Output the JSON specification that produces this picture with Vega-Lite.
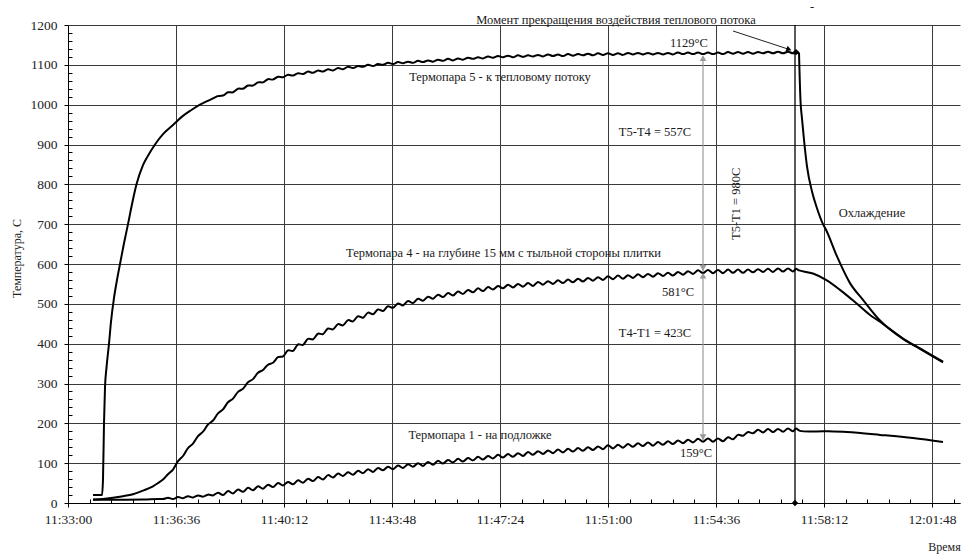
{
  "$schema": "https://vega.github.io/schema/vega-lite/v6.json",
  "autosize": {"type": "none"},
  "padding": {"left": 68, "top": 25, "right": 1, "bottom": 51},
  "width": 892,
  "height": 478,
  "background": "#ffffff",
  "config": {"view": {"stroke": null}},
  "datasets": {
    "lines": [
      {"s":"5a","t":50,"v":20},{"s":"5a","t":68,"v":20},{"s":"5a","t":70,"v":60},{"s":"5a","t":72,"v":200},{"s":"5a","t":74,"v":290},{"s":"5a","t":77,"v":340},{"s":"5a","t":82,"v":400},{"s":"5a","t":86,"v":455},{"s":"5a","t":92,"v":515},{"s":"5a","t":98,"v":560},{"s":"5a","t":104,"v":600},{"s":"5a","t":112,"v":652},{"s":"5a","t":120,"v":700},{"s":"5a","t":128,"v":750},{"s":"5a","t":137,"v":800},{"s":"5a","t":150,"v":848},{"s":"5a","t":162,"v":876},{"s":"5a","t":174,"v":900},{"s":"5a","t":190,"v":926},{"s":"5a","t":210,"v":949},{"s":"5a","t":228,"v":970},{"s":"5a","t":246,"v":986},{"s":"5a","t":264,"v":1000},{"s":"5a","t":282,"v":1011},{"s":"5a","t":300,"v":1022},
      {"s":"5b","t":300,"v":1022},{"s":"5b","t":310,"v":1023},{"s":"5b","t":320,"v":1031},{"s":"5b","t":330,"v":1031},{"s":"5b","t":340,"v":1040},{"s":"5b","t":350,"v":1040},{"s":"5b","t":360,"v":1048},{"s":"5b","t":370,"v":1048},{"s":"5b","t":380,"v":1056},{"s":"5b","t":390,"v":1056},{"s":"5b","t":400,"v":1064},{"s":"5b","t":410,"v":1063},{"s":"5b","t":420,"v":1070},{"s":"5b","t":430,"v":1069},{"s":"5b","t":440,"v":1075},{"s":"5b","t":450,"v":1073},{"s":"5b","t":460,"v":1079},{"s":"5b","t":470,"v":1077},{"s":"5b","t":480,"v":1083},{"s":"5b","t":490,"v":1080},{"s":"5b","t":500,"v":1086},{"s":"5b","t":510,"v":1083},{"s":"5b","t":520,"v":1089},{"s":"5b","t":530,"v":1086},{"s":"5b","t":540,"v":1092},{"s":"5b","t":550,"v":1089},{"s":"5b","t":560,"v":1095},{"s":"5b","t":570,"v":1092},{"s":"5b","t":580,"v":1097},{"s":"5b","t":590,"v":1095},{"s":"5b","t":600,"v":1100},{"s":"5b","t":610,"v":1097},{"s":"5b","t":620,"v":1102},{"s":"5b","t":630,"v":1100},{"s":"5b","t":640,"v":1105},{"s":"5b","t":650,"v":1102},{"s":"5b","t":660,"v":1107},{"s":"5b","t":670,"v":1104},{"s":"5b","t":680,"v":1108},{"s":"5b","t":690,"v":1105},{"s":"5b","t":700,"v":1110},{"s":"5b","t":710,"v":1107},{"s":"5b","t":720,"v":1111},{"s":"5b","t":730,"v":1108},{"s":"5b","t":740,"v":1113},{"s":"5b","t":750,"v":1110},{"s":"5b","t":760,"v":1115},{"s":"5b","t":770,"v":1111},{"s":"5b","t":780,"v":1116},{"s":"5b","t":790,"v":1113},{"s":"5b","t":800,"v":1118},{"s":"5b","t":810,"v":1115},{"s":"5b","t":820,"v":1119},{"s":"5b","t":830,"v":1116},{"s":"5b","t":840,"v":1121},{"s":"5b","t":850,"v":1118},{"s":"5b","t":860,"v":1122},{"s":"5b","t":870,"v":1119},{"s":"5b","t":880,"v":1123},{"s":"5b","t":890,"v":1119},{"s":"5b","t":900,"v":1124},{"s":"5b","t":910,"v":1120},{"s":"5b","t":920,"v":1124},{"s":"5b","t":930,"v":1121},{"s":"5b","t":940,"v":1125},{"s":"5b","t":950,"v":1121},{"s":"5b","t":960,"v":1126},{"s":"5b","t":970,"v":1122},{"s":"5b","t":980,"v":1126},{"s":"5b","t":990,"v":1122},{"s":"5b","t":1000,"v":1127},{"s":"5b","t":1010,"v":1123},{"s":"5b","t":1020,"v":1127},{"s":"5b","t":1030,"v":1124},{"s":"5b","t":1040,"v":1128},{"s":"5b","t":1050,"v":1124},{"s":"5b","t":1060,"v":1129},{"s":"5b","t":1070,"v":1125},{"s":"5b","t":1080,"v":1129},{"s":"5b","t":1090,"v":1125},{"s":"5b","t":1100,"v":1129},{"s":"5b","t":1110,"v":1125},{"s":"5b","t":1120,"v":1130},{"s":"5b","t":1130,"v":1126},{"s":"5b","t":1140,"v":1130},{"s":"5b","t":1150,"v":1126},{"s":"5b","t":1160,"v":1130},{"s":"5b","t":1170,"v":1126},{"s":"5b","t":1180,"v":1130},{"s":"5b","t":1190,"v":1126},{"s":"5b","t":1200,"v":1130},{"s":"5b","t":1210,"v":1126},{"s":"5b","t":1220,"v":1131},{"s":"5b","t":1230,"v":1127},{"s":"5b","t":1240,"v":1131},{"s":"5b","t":1250,"v":1127},{"s":"5b","t":1260,"v":1131},{"s":"5b","t":1270,"v":1127},{"s":"5b","t":1280,"v":1131},{"s":"5b","t":1290,"v":1127},{"s":"5b","t":1300,"v":1131},{"s":"5b","t":1310,"v":1127},{"s":"5b","t":1320,"v":1132},{"s":"5b","t":1330,"v":1128},{"s":"5b","t":1340,"v":1132},{"s":"5b","t":1350,"v":1128},{"s":"5b","t":1360,"v":1132},{"s":"5b","t":1370,"v":1128},{"s":"5b","t":1380,"v":1132},{"s":"5b","t":1390,"v":1129},{"s":"5b","t":1400,"v":1133},{"s":"5b","t":1410,"v":1129},{"s":"5b","t":1420,"v":1133},{"s":"5b","t":1430,"v":1129},{"s":"5b","t":1440,"v":1133},{"s":"5b","t":1450,"v":1129},{"s":"5b","t":1462,"v":1131},
      {"s":"5c","t":1462,"v":1131},{"s":"5c","t":1465,"v":1010},{"s":"5c","t":1468,"v":965},{"s":"5c","t":1472,"v":912},{"s":"5c","t":1478,"v":845},{"s":"5c","t":1488,"v":782},{"s":"5c","t":1498,"v":740},{"s":"5c","t":1510,"v":700},{"s":"5c","t":1516,"v":686},{"s":"5c","t":1538,"v":619},{"s":"5c","t":1564,"v":552},{"s":"5c","t":1590,"v":510},{"s":"5c","t":1624,"v":458},{"s":"5c","t":1670,"v":412},{"s":"5c","t":1704,"v":387},{"s":"5c","t":1750,"v":353},
      {"s":"4","t":50,"v":9},{"s":"4","t":70,"v":10},{"s":"4","t":90,"v":13},{"s":"4","t":110,"v":17},{"s":"4","t":130,"v":22},{"s":"4","t":150,"v":31},{"s":"4","t":160,"v":36},{"s":"4","t":170,"v":42},{"s":"4","t":180,"v":50},{"s":"4","t":190,"v":59},
      {"s":"4","t":200,"v":72},{"s":"4","t":210,"v":84},{"s":"4","t":220,"v":105},{"s":"4","t":230,"v":118},{"s":"4","t":240,"v":138},{"s":"4","t":250,"v":149},{"s":"4","t":260,"v":168},{"s":"4","t":270,"v":179},{"s":"4","t":280,"v":197},{"s":"4","t":290,"v":207},{"s":"4","t":300,"v":225},{"s":"4","t":310,"v":235},{"s":"4","t":320,"v":253},{"s":"4","t":330,"v":262},{"s":"4","t":340,"v":279},{"s":"4","t":350,"v":287},{"s":"4","t":360,"v":303},{"s":"4","t":370,"v":311},{"s":"4","t":380,"v":327},{"s":"4","t":390,"v":334},{"s":"4","t":400,"v":347},{"s":"4","t":410,"v":352},{"s":"4","t":420,"v":366},{"s":"4","t":430,"v":368},{"s":"4","t":440,"v":383},{"s":"4","t":450,"v":382},{"s":"4","t":460,"v":398},{"s":"4","t":470,"v":397},{"s":"4","t":480,"v":412},{"s":"4","t":490,"v":411},{"s":"4","t":500,"v":425},{"s":"4","t":510,"v":424},{"s":"4","t":520,"v":438},{"s":"4","t":530,"v":436},{"s":"4","t":540,"v":449},{"s":"4","t":550,"v":446},{"s":"4","t":560,"v":459},{"s":"4","t":570,"v":456},{"s":"4","t":580,"v":469},{"s":"4","t":590,"v":465},{"s":"4","t":600,"v":478},{"s":"4","t":610,"v":474},{"s":"4","t":620,"v":486},{"s":"4","t":630,"v":482},{"s":"4","t":640,"v":494},{"s":"4","t":650,"v":490},{"s":"4","t":660,"v":501},{"s":"4","t":670,"v":496},{"s":"4","t":680,"v":507},{"s":"4","t":690,"v":502},{"s":"4","t":700,"v":513},{"s":"4","t":710,"v":508},{"s":"4","t":720,"v":518},{"s":"4","t":730,"v":513},{"s":"4","t":740,"v":523},{"s":"4","t":750,"v":517},{"s":"4","t":760,"v":527},{"s":"4","t":770,"v":521},{"s":"4","t":780,"v":531},{"s":"4","t":790,"v":525},{"s":"4","t":800,"v":535},{"s":"4","t":810,"v":529},{"s":"4","t":820,"v":539},{"s":"4","t":830,"v":532},{"s":"4","t":840,"v":542},{"s":"4","t":850,"v":536},{"s":"4","t":860,"v":545},{"s":"4","t":870,"v":539},{"s":"4","t":880,"v":548},{"s":"4","t":890,"v":541},{"s":"4","t":900,"v":550},{"s":"4","t":910,"v":543},{"s":"4","t":920,"v":552},{"s":"4","t":930,"v":545},{"s":"4","t":940,"v":555},{"s":"4","t":950,"v":548},{"s":"4","t":960,"v":557},{"s":"4","t":970,"v":550},{"s":"4","t":980,"v":559},{"s":"4","t":990,"v":552},{"s":"4","t":1000,"v":561},{"s":"4","t":1010,"v":554},{"s":"4","t":1020,"v":563},{"s":"4","t":1030,"v":556},{"s":"4","t":1040,"v":565},{"s":"4","t":1050,"v":558},{"s":"4","t":1060,"v":567},{"s":"4","t":1070,"v":560},{"s":"4","t":1080,"v":569},{"s":"4","t":1090,"v":562},{"s":"4","t":1100,"v":571},{"s":"4","t":1110,"v":563},{"s":"4","t":1120,"v":572},{"s":"4","t":1130,"v":565},{"s":"4","t":1140,"v":574},{"s":"4","t":1150,"v":567},{"s":"4","t":1160,"v":575},{"s":"4","t":1170,"v":568},{"s":"4","t":1180,"v":577},{"s":"4","t":1190,"v":570},{"s":"4","t":1200,"v":578},{"s":"4","t":1210,"v":571},{"s":"4","t":1220,"v":580},{"s":"4","t":1230,"v":573},{"s":"4","t":1240,"v":582},{"s":"4","t":1250,"v":575},{"s":"4","t":1260,"v":584},{"s":"4","t":1270,"v":577},{"s":"4","t":1280,"v":585},{"s":"4","t":1290,"v":577},{"s":"4","t":1300,"v":585},{"s":"4","t":1310,"v":577},{"s":"4","t":1320,"v":586},{"s":"4","t":1330,"v":578},{"s":"4","t":1340,"v":586},{"s":"4","t":1350,"v":578},{"s":"4","t":1360,"v":586},{"s":"4","t":1370,"v":579},{"s":"4","t":1380,"v":587},{"s":"4","t":1390,"v":580},{"s":"4","t":1400,"v":588},{"s":"4","t":1410,"v":580},{"s":"4","t":1420,"v":589},{"s":"4","t":1430,"v":581},{"s":"4","t":1440,"v":589},{"s":"4","t":1450,"v":581},{"s":"4","t":1456,"v":588},{"s":"4","t":1462,"v":584},{"s":"4","t":1490,"v":576},{"s":"4","t":1516,"v":560},{"s":"4","t":1544,"v":535},{"s":"4","t":1578,"v":500},{"s":"4","t":1604,"v":472},{"s":"4","t":1624,"v":455},{"s":"4","t":1670,"v":413},{"s":"4","t":1704,"v":388},{"s":"4","t":1750,"v":355},
      {"s":"1","t":50,"v":8},{"s":"1","t":100,"v":8},{"s":"1","t":150,"v":9},{"s":"1","t":180,"v":10},{"s":"1","t":190,"v":10},
      {"s":"1","t":200,"v":13},{"s":"1","t":210,"v":10},{"s":"1","t":220,"v":15},{"s":"1","t":230,"v":12},{"s":"1","t":240,"v":17},{"s":"1","t":250,"v":14},{"s":"1","t":260,"v":19},{"s":"1","t":270,"v":16},{"s":"1","t":280,"v":21},{"s":"1","t":290,"v":19},{"s":"1","t":300,"v":26},{"s":"1","t":310,"v":20},{"s":"1","t":320,"v":30},{"s":"1","t":330,"v":24},{"s":"1","t":340,"v":34},{"s":"1","t":350,"v":28},{"s":"1","t":360,"v":38},{"s":"1","t":370,"v":32},{"s":"1","t":380,"v":42},{"s":"1","t":390,"v":36},{"s":"1","t":400,"v":46},{"s":"1","t":410,"v":40},{"s":"1","t":420,"v":50},{"s":"1","t":430,"v":44},{"s":"1","t":440,"v":53},{"s":"1","t":450,"v":47},{"s":"1","t":460,"v":57},{"s":"1","t":470,"v":51},{"s":"1","t":480,"v":61},{"s":"1","t":490,"v":55},{"s":"1","t":500,"v":65},{"s":"1","t":510,"v":59},{"s":"1","t":520,"v":70},{"s":"1","t":530,"v":64},{"s":"1","t":540,"v":74},{"s":"1","t":550,"v":68},{"s":"1","t":560,"v":77},{"s":"1","t":570,"v":71},{"s":"1","t":580,"v":81},{"s":"1","t":590,"v":75},{"s":"1","t":600,"v":85},{"s":"1","t":610,"v":78},{"s":"1","t":620,"v":88},{"s":"1","t":630,"v":82},{"s":"1","t":640,"v":91},{"s":"1","t":650,"v":85},{"s":"1","t":660,"v":94},{"s":"1","t":670,"v":88},{"s":"1","t":680,"v":97},{"s":"1","t":690,"v":91},{"s":"1","t":700,"v":100},{"s":"1","t":710,"v":93},{"s":"1","t":720,"v":103},{"s":"1","t":730,"v":96},{"s":"1","t":740,"v":106},{"s":"1","t":750,"v":99},{"s":"1","t":760,"v":108},{"s":"1","t":770,"v":102},{"s":"1","t":780,"v":111},{"s":"1","t":790,"v":104},{"s":"1","t":800,"v":113},{"s":"1","t":810,"v":107},{"s":"1","t":820,"v":116},{"s":"1","t":830,"v":109},{"s":"1","t":840,"v":118},{"s":"1","t":850,"v":112},{"s":"1","t":860,"v":121},{"s":"1","t":870,"v":114},{"s":"1","t":880,"v":123},{"s":"1","t":890,"v":116},{"s":"1","t":900,"v":125},{"s":"1","t":910,"v":118},{"s":"1","t":920,"v":128},{"s":"1","t":930,"v":121},{"s":"1","t":940,"v":130},{"s":"1","t":950,"v":123},{"s":"1","t":960,"v":132},{"s":"1","t":970,"v":125},{"s":"1","t":980,"v":134},{"s":"1","t":990,"v":127},{"s":"1","t":1000,"v":136},{"s":"1","t":1010,"v":129},{"s":"1","t":1020,"v":138},{"s":"1","t":1030,"v":131},{"s":"1","t":1040,"v":140},{"s":"1","t":1050,"v":133},{"s":"1","t":1060,"v":142},{"s":"1","t":1070,"v":135},{"s":"1","t":1080,"v":145},{"s":"1","t":1090,"v":137},{"s":"1","t":1100,"v":146},{"s":"1","t":1110,"v":139},{"s":"1","t":1120,"v":148},{"s":"1","t":1130,"v":141},{"s":"1","t":1140,"v":150},{"s":"1","t":1150,"v":143},{"s":"1","t":1160,"v":152},{"s":"1","t":1170,"v":144},{"s":"1","t":1180,"v":153},{"s":"1","t":1190,"v":146},{"s":"1","t":1200,"v":155},{"s":"1","t":1210,"v":148},{"s":"1","t":1220,"v":157},{"s":"1","t":1230,"v":150},{"s":"1","t":1240,"v":159},{"s":"1","t":1250,"v":152},{"s":"1","t":1260,"v":161},{"s":"1","t":1270,"v":154},{"s":"1","t":1280,"v":162},{"s":"1","t":1290,"v":154},{"s":"1","t":1300,"v":162},{"s":"1","t":1310,"v":155},{"s":"1","t":1320,"v":165},{"s":"1","t":1330,"v":160},{"s":"1","t":1340,"v":171},{"s":"1","t":1350,"v":169},{"s":"1","t":1360,"v":178},{"s":"1","t":1370,"v":175},{"s":"1","t":1380,"v":184},{"s":"1","t":1390,"v":177},{"s":"1","t":1400,"v":186},{"s":"1","t":1410,"v":178},{"s":"1","t":1420,"v":186},{"s":"1","t":1430,"v":179},{"s":"1","t":1440,"v":187},{"s":"1","t":1450,"v":180},{"s":"1","t":1456,"v":187},{"s":"1","t":1464,"v":181},{"s":"1","t":1516,"v":180},{"s":"1","t":1558,"v":178},{"s":"1","t":1624,"v":171},{"s":"1","t":1690,"v":163},{"s":"1","t":1750,"v":153}
    ],
    "labels": [
      {"label":"Момент прекращения воздействия теплового потока","t":1096,"v":1212},
      {"label":"1129°C","t":1242,"v":1155},
      {"label":"Термопара 5 - к тепловому потоку","t":864,"v":1070},
      {"label":"T5-T4 = 557C","t":1174,"v":932},
      {"label":"Охлаждение","t":1608,"v":727},
      {"label":"Термопара  4 - на глубине 15 мм с тыльной стороны плитки","t":871,"v":628},
      {"label":"581°C","t":1220,"v":530},
      {"label":"T4-T1 = 423C","t":1174,"v":428},
      {"label":"Термопара 1 - на подложке","t":824,"v":170},
      {"label":"159°C","t":1256,"v":126},
      {"label":"-","t":1488,"v":1245}
    ]
  },
  "encoding": {
    "x": {
      "field": "t", "type": "quantitative",
      "scale": {"domain": [0, 1784], "nice": false, "zero": false},
      "axis": {
        "title": "Время",
        "values": [0,43.2,86.4,129.6,172.8,216,259.2,302.4,345.6,388.8,432,475.2,518.4,561.6,604.8,648,691.2,734.4,777.6,820.8,864,907.2,950.4,993.6,1036.8,1080,1123.2,1166.4,1209.6,1252.8,1296,1339.2,1382.4,1425.6,1468.8,1512,1555.2,1598.4,1641.6,1684.8,1728,1771.2],
        "labelExpr": "indexof([0,216,432,648,864,1080,1296,1512,1728], datum.value) >= 0 ? utcFormat((41580 + datum.value) * 1000, '%H:%M:%S') : ''",
        "tickSize": {"condition": {"test": "indexof([0,216,432,648,864,1080,1296,1512,1728], datum.value) >= 0", "value": 4}, "value": -4},
        "grid": true,
        "gridOpacity": {"condition": {"test": "indexof([0,216,432,648,864,1080,1296,1512,1728], datum.value) >= 0", "value": 1}, "value": 0},
        "gridColor": "#3a3a3a", "gridWidth": 1,
        "domainColor": "#000000", "tickColor": "#000000", "tickWidth": 1,
        "labelFont": "Liberation Serif", "labelFontSize": 13.5, "labelColor": "#222222",
        "labelPadding": 5, "labelFlush": false, "labelOverlap": false,
        "titleFont": "Liberation Serif", "titleFontSize": 12, "titleFontWeight": "normal", "titleColor": "#222222",
        "titleX": 876, "titleY": 43, "titleAlign": "center", "titleBaseline": "middle"
      }
    },
    "y": {
      "field": "v", "type": "quantitative",
      "scale": {"domain": [0, 1200], "nice": false, "zero": true},
      "axis": {
        "title": "Температура, С",
        "values": [0,20,40,60,80,100,120,140,160,180,200,220,240,260,280,300,320,340,360,380,400,420,440,460,480,500,520,540,560,580,600,620,640,660,680,700,720,740,760,780,800,820,840,860,880,900,920,940,960,980,1000,1020,1040,1060,1080,1100,1120,1140,1160,1180,1200],
        "format": "d",
        "labelExpr": "datum.value % 100 === 0 ? datum.label : ''",
        "tickSize": {"condition": {"test": "datum.value % 100 === 0", "value": 4}, "value": -4},
        "grid": true,
        "gridOpacity": {"condition": {"test": "datum.value % 100 === 0", "value": 1}, "value": 0},
        "gridColor": "#3a3a3a", "gridWidth": 1,
        "domainColor": "#000000", "tickColor": "#000000", "tickWidth": 1,
        "labelFont": "Liberation Serif", "labelFontSize": 13.5, "labelColor": "#222222",
        "labelPadding": 7, "labelOverlap": false, "labelFlush": false,
        "titleFont": "Liberation Serif", "titleFontSize": 12, "titleFontWeight": "normal", "titleColor": "#222222",
        "titleX": -52, "titleY": 233, "titleAngle": -90, "titleAlign": "center", "titleBaseline": "middle"
      }
    }
  },
  "layer": [
    {
      "data": {"values": [{"t": 1454}]},
      "mark": {"type": "rule", "color": "#000000", "strokeWidth": 1.3},
      "encoding": {"x": {"field": "t", "type": "quantitative"}, "y": null}
    },
    {
      "data": {"values": [{"t": 1270, "v": 159, "v2": 1120}]},
      "mark": {"type": "rule", "color": "#9a9a9a", "strokeWidth": 1.2},
      "encoding": {"y2": {"field": "v2"}}
    },
    {
      "data": {"name": "lines"},
      "transform": [{"filter": "datum.s === '5a' || datum.s === '5c'"}],
      "mark": {"type": "line", "interpolate": "monotone", "color": "#000000", "strokeWidth": 2},
      "encoding": {"detail": {"field": "s"}}
    },
    {
      "data": {"name": "lines"},
      "transform": [{"filter": "datum.s !== '5a' && datum.s !== '5c'"}],
      "mark": {"type": "line", "interpolate": "catmull-rom", "color": "#000000", "strokeWidth": 2},
      "encoding": {"detail": {"field": "s"}}
    },
    {
      "data": {"values": [{"t": 1270, "v": 1117}, {"t": 1270, "v": 571}]},
      "mark": {"type": "point", "shape": "triangle-up", "filled": true, "color": "#9a9a9a", "size": 45, "opacity": 1}
    },
    {
      "data": {"values": [{"t": 1270, "v": 590}, {"t": 1270, "v": 165}]},
      "mark": {"type": "point", "shape": "triangle-down", "filled": true, "color": "#9a9a9a", "size": 45, "opacity": 1}
    },
    {
      "data": {"values": [{"t": 1330, "v": 1185, "t2": 1444, "v2": 1138}]},
      "mark": {"type": "rule", "color": "#222222", "strokeWidth": 1},
      "encoding": {"x2": {"field": "t2"}, "y2": {"field": "v2"}}
    },
    {
      "data": {"values": [{"t": 1442, "v": 1139}]},
      "mark": {"type": "point", "shape": "triangle-right", "angle": 20, "filled": true, "color": "#000000", "size": 35, "opacity": 1}
    },
    {
      "data": {"values": [{"t": 1456, "v": 1132}, {"t": 1454, "v": 0}]},
      "mark": {"type": "point", "shape": "diamond", "filled": true, "color": "#000000", "size": 40, "opacity": 1}
    },
    {
      "data": {"name": "labels"},
      "mark": {"type": "text", "font": "Liberation Serif", "fontSize": 12.5, "color": "#1a1a1a", "align": "center", "baseline": "middle"},
      "encoding": {"text": {"field": "label"}}
    },
    {
      "data": {"values": [{"label": "T5-T1 = 980C", "t": 1336, "v": 751}]},
      "mark": {"type": "text", "font": "Liberation Serif", "fontSize": 12.5, "color": "#1a1a1a", "align": "center", "baseline": "middle", "angle": 270},
      "encoding": {"text": {"field": "label"}}
    }
  ]
}
